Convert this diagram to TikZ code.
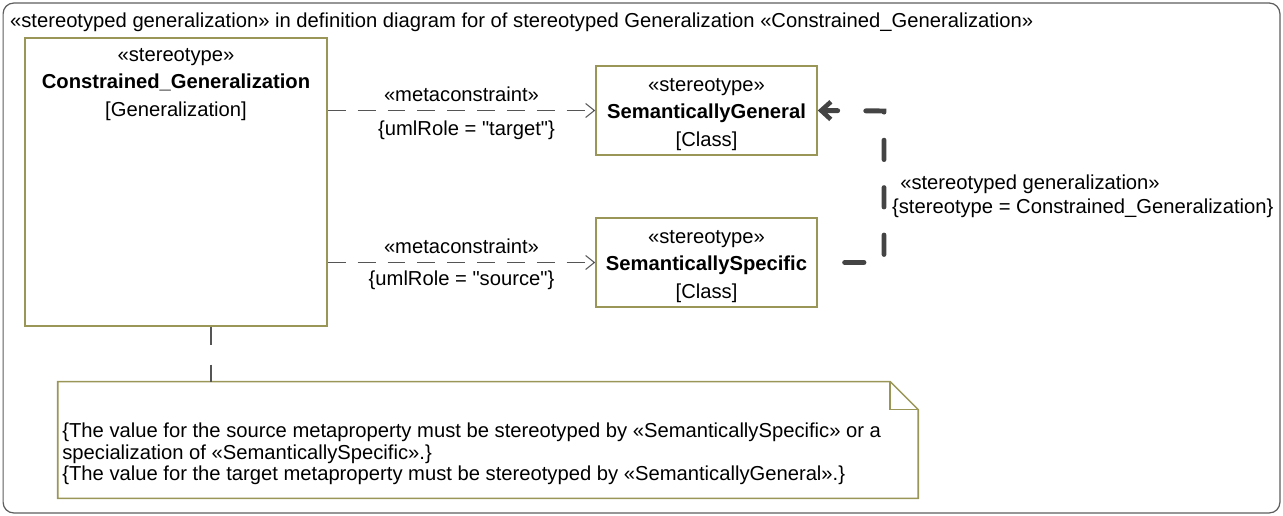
\documentclass[tikz,border=0pt]{standalone}
\usepackage{fontspec}
\setmainfont{Liberation Sans}
\usepackage{tikz}
\usetikzlibrary{arrows.meta,positioning,calc}
\definecolor{olivebd}{HTML}{9A9658}
\definecolor{framegray}{HTML}{5E5E5E}
\definecolor{linegray}{HTML}{555555}
\definecolor{gendark}{HTML}{444444}
\newcommand{\umlsize}{\fontsize{11.5}{15.6}\selectfont}
\newcommand{\notesize}{\fontsize{11.5}{12.3}\selectfont}
\tikzset{
  framebox/.style={
    rectangle, draw=framegray, rounded corners=6pt, line width=0.7pt,
    minimum width=25.54cm, minimum height=10.2cm, inner sep=0pt
  },
  classbox/.style={
    rectangle, draw=olivebd, fill=white, line width=0.9pt,
    font=\umlsize, align=center, inner sep=0pt
  },
  lbl/.style={
    font=\umlsize, text=black, inner sep=1pt
  },
  metaline/.style={
    -{Straight Barb[length=5pt, width=8pt]}, color=linegray, line width=0.6pt,
    dash pattern=on 10.2pt off 6.8pt
  },
  genline/.style={
    -{Straight Barb[length=5.5pt, width=10pt, line width=2.6pt]}, color=gendark,
    line width=2.8pt, line cap=round, dash pattern=on 11pt off 16pt, dash phase=11.7pt
  },
  noteline/.style={
    color=linegray, line width=0.6pt, dash pattern=on 10.5pt off 11pt
  },
  notebox/.style={
    rectangle, inner sep=0pt, minimum width=17.2cm, minimum height=2.32cm
  },
}
\begin{document}
\begin{tikzpicture}[x=0.02cm, y=-0.02cm]
\useasboundingbox (0,0) rectangle (1283,516);

% frame and title
\node[framebox] (frame) at (641.5,258) {};
\node[lbl, anchor=west] (title) at (8,22)
  {«stereotyped generalization» in definition diagram for of stereotyped Generalization «Constrained\_Generalization»};

% classes
\node[classbox, minimum width=6.04cm, minimum height=5.76cm,
      label={[lbl, align=center, anchor=north, yshift=-0.18cm]north:«stereotype»\\\textbf{Constrained\_Generalization}\\{}[Generalization]}]
      (cg) at (176,182) {};
\node[classbox, minimum width=4.42cm, minimum height=1.78cm,
      label={[lbl, align=center, yshift=-0.08cm]center:«stereotype»\\\textbf{SemanticallyGeneral}\\{}[Class]}]
      (sg) at (706.5,110.5) {};
\node[classbox, minimum width=4.42cm, minimum height=1.78cm,
      label={[lbl, align=center, yshift=-0.08cm]center:«stereotype»\\\textbf{SemanticallySpecific}\\{}[Class]}]
      (ss) at (706.5,262.5) {};

% metaconstraints
\draw[metaline] (cg.east |- sg.west) -- (sg.west)
  node[lbl, midway, above=0.14cm] {«metaconstraint»}
  node[lbl, midway, below=0.17cm, xshift=0.1cm] {\{umlRole = \textquotedbl target\textquotedbl\}};
\draw[metaline] (cg.east |- ss.west) -- (ss.west)
  node[lbl, midway, above=0.14cm] {«metaconstraint»}
  node[lbl, midway, below=0.13cm] {\{umlRole = \textquotedbl source\textquotedbl\}};

% stereotyped generalization
\coordinate (gencorner) at (884,111);
\draw[genline] (ss.east) -| (gencorner) -- (sg.east);
\node[lbl] (genname) at (1030,184) {«stereotyped generalization»};
\node[lbl, anchor=west] (genvalue) at (890,208) {\{stereotype = Constrained\_Generalization\}};

% note
\node[notebox] (note) at (488,440) {};
\draw[olivebd, line width=0.9pt, fill=white] (note.south west) -- (note.north west)
  -- ($(note.north east)+(-28,0)$) -- ($(note.north east)+(0,28)$)
  -- (note.south east) -- cycle;
\draw[olivebd, line width=0.9pt] ($(note.north east)+(-28,0)$) -- ($(note.north east)+(-28,28)$)
  -- ($(note.north east)+(0,28)$);
\node[anchor=west, font=\notesize, align=left, inner sep=0pt] (notetext) at (62,454)
  {\{The value for the source metaproperty must be stereotyped by «SemanticallySpecific» or a\\
   specialization of «SemanticallySpecific».\}\\
   \{The value for the target metaproperty must be stereotyped by «SemanticallyGeneral».\}};
\coordinate (cganchor) at ($(cg.south)+(35,0)$);
\draw[noteline] (cganchor) -- (cganchor |- note.north);

\end{tikzpicture}
\end{document}
